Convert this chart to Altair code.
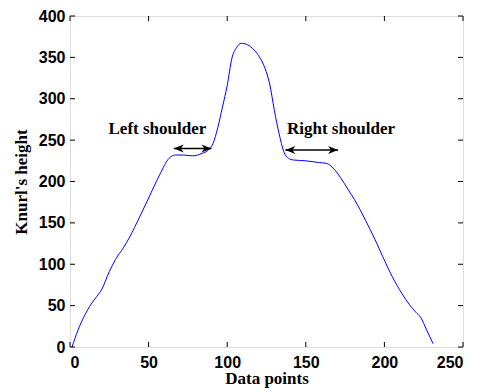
import altair as alt
import pandas as pd

# ---- data ----
xs = [1.3, 5, 9, 13.5, 17, 20, 25, 29, 34, 38, 44, 50, 57, 63, 67, 72, 78, 84, 88, 91,
      94, 97, 100, 103, 106, 109, 112, 116, 120, 124, 127, 130, 133, 136, 139, 142,
      150, 158, 163, 168, 172, 177, 181, 188, 194, 199, 205, 211, 216, 220, 223, 227, 231]
ys = [0, 20, 37, 52, 61, 69, 91, 106, 120, 133, 156, 180, 208, 228, 232, 232, 231, 234, 238, 246,
      265, 290, 316, 349, 362, 367, 366, 361, 352, 337, 318, 286, 258, 236, 228, 226,
      225, 223, 222, 215, 205, 190, 178, 153, 130, 109, 85, 65, 51, 42, 36, 20, 4]

x_ticks = [0, 50, 100, 150, 200, 250]
y_ticks = [0, 50, 100, 150, 200, 250, 300, 350, 400]

arrow_labels = ["Left shoulder", "Right shoulder"]
arrow_x1 = [66, 137]
arrow_x2 = [90, 170.5]
arrow_y = [240, 238]
label_x = [55.6, 172.4]
label_y = [263, 263]

W, H = 393, 331

curve = pd.DataFrame({"x": xs, "y": ys})
arrows = pd.DataFrame({"label": arrow_labels, "x1": arrow_x1, "x2": arrow_x2, "y": arrow_y,
                       "lx": label_x, "ly": label_y})
xt = pd.DataFrame({"t": x_ticks})
yt = pd.DataFrame({"t": y_ticks})

xscale = alt.Scale(domain=[0, 250], nice=False)
yscale = alt.Scale(domain=[0, 400], nice=False)

xaxis = alt.Axis(values=x_ticks, title="Data points", grid=False, tickSize=0, domain=False,
                 labelFont="Liberation Sans", labelFontWeight="bold", labelFontSize=16,
                 labelColor="black", labelPadding=7,
                 titleFont="Liberation Serif", titleFontWeight="bold", titleFontSize=17,
                 titleColor="black", titlePadding=0)
yaxis = alt.Axis(values=y_ticks, title="Knurl's height", grid=False, tickSize=0, domain=False,
                 labelFont="Liberation Sans", labelFontWeight="bold", labelFontSize=16,
                 labelColor="black", labelPadding=5,
                 titleFont="Liberation Serif", titleFontWeight="bold", titleFontSize=17,
                 titleColor="black", titlePadding=8)

line = alt.Chart(curve).mark_line(color="#0000ff", strokeWidth=1, interpolate="monotone").encode(
    x=alt.X("x:Q", scale=xscale, axis=xaxis),
    y=alt.Y("y:Q", scale=yscale, axis=yaxis),
)

shaft = alt.Chart(arrows).mark_rule(color="black", strokeWidth=1.5).encode(
    x=alt.X("x1:Q", scale=xscale), x2="x2:Q", y=alt.Y("y:Q", scale=yscale)
)
head_right = alt.Chart(arrows).mark_point(
    shape="M0,0L-2,-0.8L-1.4,0L-2,0.8Z", filled=True, color="black", size=100, opacity=1
).encode(x=alt.X("x2:Q", scale=xscale), y=alt.Y("y:Q", scale=yscale))
head_left = alt.Chart(arrows).mark_point(
    shape="M0,0L2,-0.8L1.4,0L2,0.8Z", filled=True, color="black", size=100, opacity=1
).encode(x=alt.X("x1:Q", scale=xscale), y=alt.Y("y:Q", scale=yscale))

labels = alt.Chart(arrows).mark_text(font="Liberation Serif", fontSize=17, fontWeight="bold",
                                     color="black", align="center", baseline="middle").encode(
    x=alt.X("lx:Q", scale=xscale), y=alt.Y("ly:Q", scale=yscale), text="label:N"
)

tl = 5
xt_bot = alt.Chart(xt).mark_rule(color="black", strokeWidth=1).encode(
    x=alt.X("t:Q", scale=xscale), y=alt.value(H), y2=alt.value(H - tl))
xt_top = alt.Chart(xt).mark_rule(color="black", strokeWidth=1).encode(
    x=alt.X("t:Q", scale=xscale), y=alt.value(0), y2=alt.value(tl))
yt_left = alt.Chart(yt).mark_rule(color="black", strokeWidth=1).encode(
    y=alt.Y("t:Q", scale=yscale), x=alt.value(0), x2=alt.value(tl))
yt_right = alt.Chart(yt).mark_rule(color="black", strokeWidth=1).encode(
    y=alt.Y("t:Q", scale=yscale), x=alt.value(W), x2=alt.value(W - tl))

chart = alt.layer(line, xt_bot, xt_top, yt_left, yt_right, shaft, head_left, head_right, labels).properties(
    width=W, height=H,
    autosize=alt.AutoSizeParams(type="none"),
    padding={"left": 62, "top": 8, "right": 7, "bottom": 44},
).configure_view(stroke="black", strokeWidth=1.5).configure(background="white")

chart.save("out.html", embed_options={"renderer": "svg", "actions": False})
